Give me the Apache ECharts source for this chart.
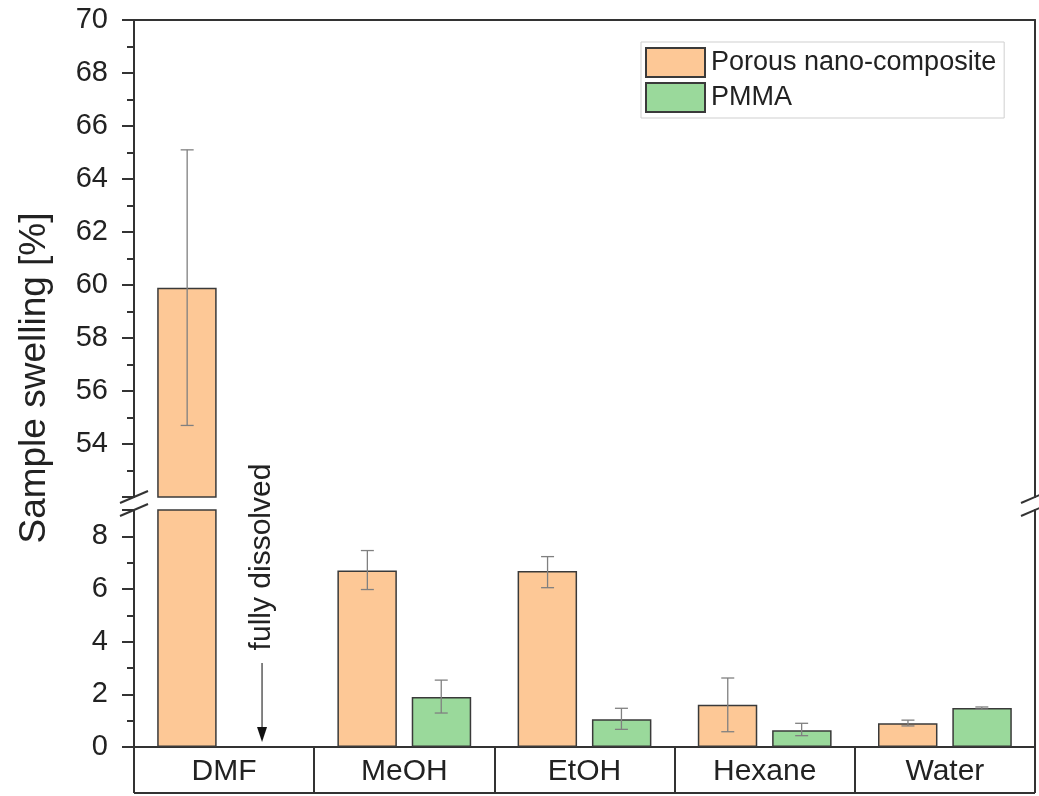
<!DOCTYPE html>
<html>
<head>
<meta charset="utf-8">
<script src="https://cdn.jsdelivr.net/npm/echarts@6/dist/echarts.min.js"></script>
<style>
  html, body { margin: 0; padding: 0; background: #fff; }
  #chart { width: 1039px; height: 796px; }
</style>
</head>
<body>
<div id="chart"></div>
<script>
const categories = ['DMF', 'MeOH', 'EtOH', 'Hexane', 'Water']
const porous = [59.9, 6.7, 6.68, 1.6, 0.9]
const porousLow = [54.7, 5.98, 6.05, 0.58, 0.8]
const porousHigh = [65.1, 7.46, 7.23, 2.62, 1.02]
const pmma = [null, 1.9, 1.05, 0.64, 1.48]
const pmmaLow = [null, 1.29, 0.67, 0.43, 1.44]
const pmmaHigh = [null, 2.54, 1.47, 0.9, 1.52]
const upperRange = [52, 70]
const lowerRange = [0, 9]

const orange = '#fdc896'
const green = '#9ad99b'
const edge = '#3a3a3a'
const axisColor = '#333'
const font = 'Liberation Sans, Arial, sans-serif'

function errData(low, high) {
  const out = []
  low.forEach((v, i) => {
    if (v !== null) out.push([i, v, high[i]])
  })
  return out
}

// error bars, shifted left/right onto their bar
function errorBar(offset, range) {
  return function (params, api) {
    const lo = api.value(1), hi = api.value(2)
    if (hi < range[0] || lo > range[1]) return null
    const top = api.coord([api.value(0), Math.min(hi, range[1])])
    const bot = api.coord([api.value(0), Math.max(lo, range[0])])
    const band = api.size([1, 0])[0]
    const x = top[0] + offset * band
    const cap = 6.5
    const style = { stroke: '#808080', lineWidth: 1.3 }
    const kids = [{ type: 'line', shape: { x1: x, y1: top[1], x2: x, y2: bot[1] }, style: style }]
    if (hi <= range[1]) kids.push({ type: 'line', shape: { x1: x - cap, y1: top[1], x2: x + cap, y2: top[1] }, style: style })
    if (lo >= range[0]) kids.push({ type: 'line', shape: { x1: x - cap, y1: bot[1], x2: x + cap, y2: bot[1] }, style: style })
    return { type: 'group', children: kids }
  }
}

function bars(name, data, color, xi, yi) {
  return {
    name: name,
    type: 'bar',
    xAxisIndex: xi,
    yAxisIndex: yi,
    data: data,
    barWidth: '33%',
    barGap: '25%',
    itemStyle: { color: color, borderColor: edge, borderWidth: 1.5 },
    clip: true,
    silent: true
  }
}

function errors(low, high, offset, xi, yi, range) {
  return {
    type: 'custom',
    xAxisIndex: xi,
    yAxisIndex: yi,
    data: errData(low, high),
    encode: { x: 0, y: [1, 2] },
    renderItem: errorBar(offset, range),
    clip: true,
    silent: true,
    z: 5
  }
}

const lineOnly = {
  axisLine: { show: true, lineStyle: { color: axisColor, width: 2 } },
  axisTick: { show: false },
  axisLabel: { show: false },
  splitLine: { show: false }
}

const myChart = echarts.init(document.getElementById('chart'))

const option = {
  animation: false,
  grid: [
    { left: 134, right: 4, top: 20, height: 477 },
    { left: 134, right: 4, top: 510, height: 237 }
  ],
  legend: {
    orient: 'vertical',
    left: 641,
    top: 42,
    width: 366,
    icon: 'rect',
    itemWidth: 59,
    itemHeight: 29,
    itemGap: 4,
    padding: [5, 8, 5, 4],
    borderColor: '#cfcfcf',
    borderWidth: 1,
    data: ['Porous nano-composite', 'PMMA'],
    textStyle: { fontFamily: font, fontSize: 27, color: '#222', padding: [0, 0, 0, 1] }
  },
  xAxis: [
    Object.assign({ type: 'category', data: categories, gridIndex: 0, position: 'top' }, lineOnly),
    {
      type: 'category', data: categories, gridIndex: 1, position: 'bottom',
      axisLine: { show: true, lineStyle: { color: axisColor, width: 2 } },
      axisTick: { show: true, length: 46, lineStyle: { color: axisColor, width: 2 } },
      axisLabel: { fontFamily: font, fontSize: 30, color: '#222', margin: 10 },
      splitLine: { show: false }
    }
  ],
  yAxis: [
    {
      type: 'value', gridIndex: 0, min: upperRange[0], max: upperRange[1], interval: 2,
      axisLine: { show: true, lineStyle: { color: axisColor, width: 2 } },
      axisTick: { show: true, length: 12, lineStyle: { color: axisColor, width: 2 } },
      minorTick: { show: true, splitNumber: 2, length: 7, lineStyle: { color: axisColor, width: 2 } },
      axisLabel: {
        fontFamily: font, fontSize: 29, color: '#222', margin: 26,
        formatter: v => (v === 52 ? '' : v)
      },
      splitLine: { show: false }
    },
    Object.assign({ type: 'value', gridIndex: 0, position: 'right', min: upperRange[0], max: upperRange[1] }, lineOnly),
    {
      type: 'value', gridIndex: 1, min: lowerRange[0], max: lowerRange[1], interval: 2,
      axisLine: { show: true, lineStyle: { color: axisColor, width: 2 } },
      axisTick: { show: true, length: 12, lineStyle: { color: axisColor, width: 2 } },
      minorTick: { show: true, splitNumber: 2, length: 7, lineStyle: { color: axisColor, width: 2 } },
      axisLabel: {
        fontFamily: font, fontSize: 29, color: '#222', margin: 26,
        formatter: v => (v === 9 ? '' : v)
      },
      splitLine: { show: false }
    },
    Object.assign({ type: 'value', gridIndex: 1, position: 'right', min: lowerRange[0], max: lowerRange[1] }, lineOnly)
  ],
  series: [
    bars('Porous nano-composite', porous, orange, 0, 0),
    bars('PMMA', pmma, green, 0, 0),
    bars('Porous nano-composite', porous, orange, 1, 2),
    bars('PMMA', pmma, green, 1, 2),
    errors(porousLow, porousHigh, -0.205, 0, 0, upperRange),
    errors(pmmaLow, pmmaHigh, 0.205, 0, 0, upperRange),
    errors(porousLow, porousHigh, -0.205, 1, 2, lowerRange),
    errors(pmmaLow, pmmaHigh, 0.205, 1, 2, lowerRange)
  ]
}

myChart.setOption(option)

// annotations: axis title, break marks, label box bottom, "fully dissolved" arrow
const base = myChart.convertToPixel({ xAxisIndex: 1, yAxisIndex: 2 }, [0, 0])
const band = myChart.getModel().getComponent('xAxis', 1).axis.getBandWidth()
const ax = base[0] + 0.205 * band
const boxBottom = base[1] + 46
const breakStyle = { stroke: axisColor, lineWidth: 2 }
function slashes(x) {
  return [
    { type: 'line', shape: { x1: x - 14, y1: 503, x2: x + 14, y2: 491 }, style: breakStyle },
    { type: 'line', shape: { x1: x - 14, y1: 516, x2: x + 14, y2: 504 }, style: breakStyle }
  ]
}

myChart.setOption({
  graphic: [
    {
      type: 'text', x: 35, y: 378, rotation: Math.PI / 2,
      style: { text: 'Sample swelling [%]', fontFamily: font, fontSize: 37, fill: '#222', align: 'center', verticalAlign: 'middle' }
    },
    {
      type: 'text', x: ax + 1, y: 557, rotation: Math.PI / 2,
      style: { text: 'fully dissolved', fontFamily: font, fontSize: 30, fill: '#222', align: 'center', verticalAlign: 'middle' }
    },
    { type: 'line', shape: { x1: ax + 1, y1: 663, x2: ax + 1, y2: 730 }, style: { stroke: '#333', lineWidth: 1.2 } },
    { type: 'polygon', shape: { points: [[ax - 4, 727], [ax + 6, 727], [ax + 1, 742]] }, style: { fill: '#111' } },
    { type: 'line', shape: { x1: 134, y1: boxBottom, x2: 1035, y2: boxBottom }, style: breakStyle }
  ].concat(slashes(134), slashes(1035))
})
</script>
</body>
</html>
